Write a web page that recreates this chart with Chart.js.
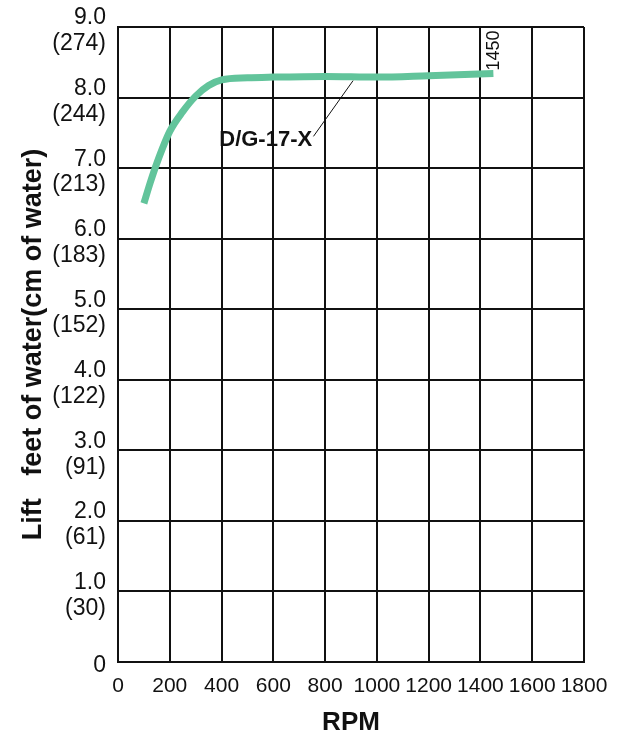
<!DOCTYPE html>
<html>
<head>
<meta charset="utf-8">
<script src="https://cdn.jsdelivr.net/npm/chart.js@4.4.1/dist/chart.umd.min.js"></script>
<style>
    html, body { margin: 0; padding: 0; background: #fff; }
    #wrap { width: 623px; height: 740px; }
</style>
</head>
<body>
<div id="wrap"><canvas id="liftChart" width="623" height="740"></canvas></div>
<script>
// curve D/G-17-X
const rpmValues = [100, 125, 150, 200, 250, 300, 350, 400, 500, 600, 800, 1000, 1200, 1450];
const liftValues = [6.50, 6.80, 7.07, 7.52, 7.80, 8.02, 8.17, 8.25, 8.28, 8.29, 8.30, 8.29, 8.31, 8.34];

// y tick labels: feet and (cm)
const yTickFeet = [0, 1, 2, 3, 4, 5, 6, 7, 8, 9];
const yTickCm = [null, 30, 61, 91, 122, 152, 183, 213, 244, 274];

const seriesName = 'D/G-17-X';
const endLabel = '1450';

const font = "'Liberation Sans', Arial, sans-serif";
const lineColor = '#62c49b';

const labelsPlugin = {
    id: 'curveLabels',
    afterDatasetsDraw: (chart) => {
        const { ctx, scales: { x, y } } = chart;
        ctx.save();

        // leader line from the name to the curve
        ctx.strokeStyle = '#111';
        ctx.lineWidth = 1;
        ctx.beginPath();
        ctx.moveTo(x.getPixelForValue(755), y.getPixelForValue(7.45));
        ctx.lineTo(x.getPixelForValue(908), y.getPixelForValue(8.24));
        ctx.stroke();

        ctx.fillStyle = '#111';
        ctx.font = 'bold 22px ' + font;
        ctx.textAlign = 'right';
        ctx.textBaseline = 'middle';
        ctx.fillText(seriesName, x.getPixelForValue(750), y.getPixelForValue(7.40));

        // rpm at end of curve
        const last = rpmValues.length - 1;
        ctx.translate(x.getPixelForValue(rpmValues[last]) + 1, y.getPixelForValue(liftValues[last]) - 3);
        ctx.rotate(-Math.PI / 2);
        ctx.font = '18px ' + font;
        ctx.textAlign = 'left';
        ctx.fillText(endLabel, 0, 0);
        ctx.restore();
    }
};

const ctx = document.getElementById('liftChart').getContext('2d');
new Chart(ctx, {
    type: 'line',
    data: {
        datasets: [{
            label: seriesName,
            data: rpmValues.map((r, i) => ({ x: r, y: liftValues[i] })),
            borderColor: lineColor,
            borderWidth: 7,
            borderCapStyle: 'butt',
            pointRadius: 0,
            cubicInterpolationMode: 'monotone',
            fill: false
        }]
    },
    options: {
        responsive: false,
        devicePixelRatio: 1,
        animation: false,
        layout: { padding: { left: 0, top: 27, right: 39, bottom: 0 } },
        plugins: {
            legend: { display: false },
            tooltip: { enabled: false }
        },
        scales: {
            x: {
                type: 'linear',
                min: 0,
                max: 1800,
                afterFit: (scale) => { scale.height = 78; },
                ticks: {
                    stepSize: 200,
                    autoSkip: false,
                    maxRotation: 0,
                    padding: 12,
                    color: '#111',
                    font: { family: font, size: 21 },
                    callback: (v) => String(v)
                },
                grid: { color: '#111', lineWidth: 2, drawTicks: false },
                border: { color: '#111', width: 2 },
                title: {
                    display: true,
                    text: 'RPM',
                    color: '#111',
                    font: { family: font, size: 26, weight: 'bold' },
                    padding: { top: 0, bottom: 2 }
                }
            },
            y: {
                min: 0,
                max: 9,
                afterFit: (scale) => {
                    scale.width = 118;
                    scale.paddingTop = 0;
                    scale.paddingBottom = 0;
                },
                ticks: {
                    stepSize: 1,
                    padding: 12,
                    labelOffset: 4,
                    color: '#111',
                    font: { family: font, size: 23, lineHeight: 1.12 },
                    callback: (v) => {
                        const i = yTickFeet.indexOf(v);
                        if (i <= 0) return '0';
                        return [v.toFixed(1), '(' + yTickCm[i] + ')'];
                    }
                },
                grid: { color: '#111', lineWidth: 2, drawTicks: false },
                border: { color: '#111', width: 2 },
                title: {
                    display: true,
                    text: 'Lift   feet of water(cm of water)',
                    color: '#111',
                    font: { family: font, size: 27, weight: 'bold' },
                    padding: { top: 17, bottom: 0 }
                }
            }
        }
    },
    plugins: [labelsPlugin]
});
</script>
</body>
</html>
